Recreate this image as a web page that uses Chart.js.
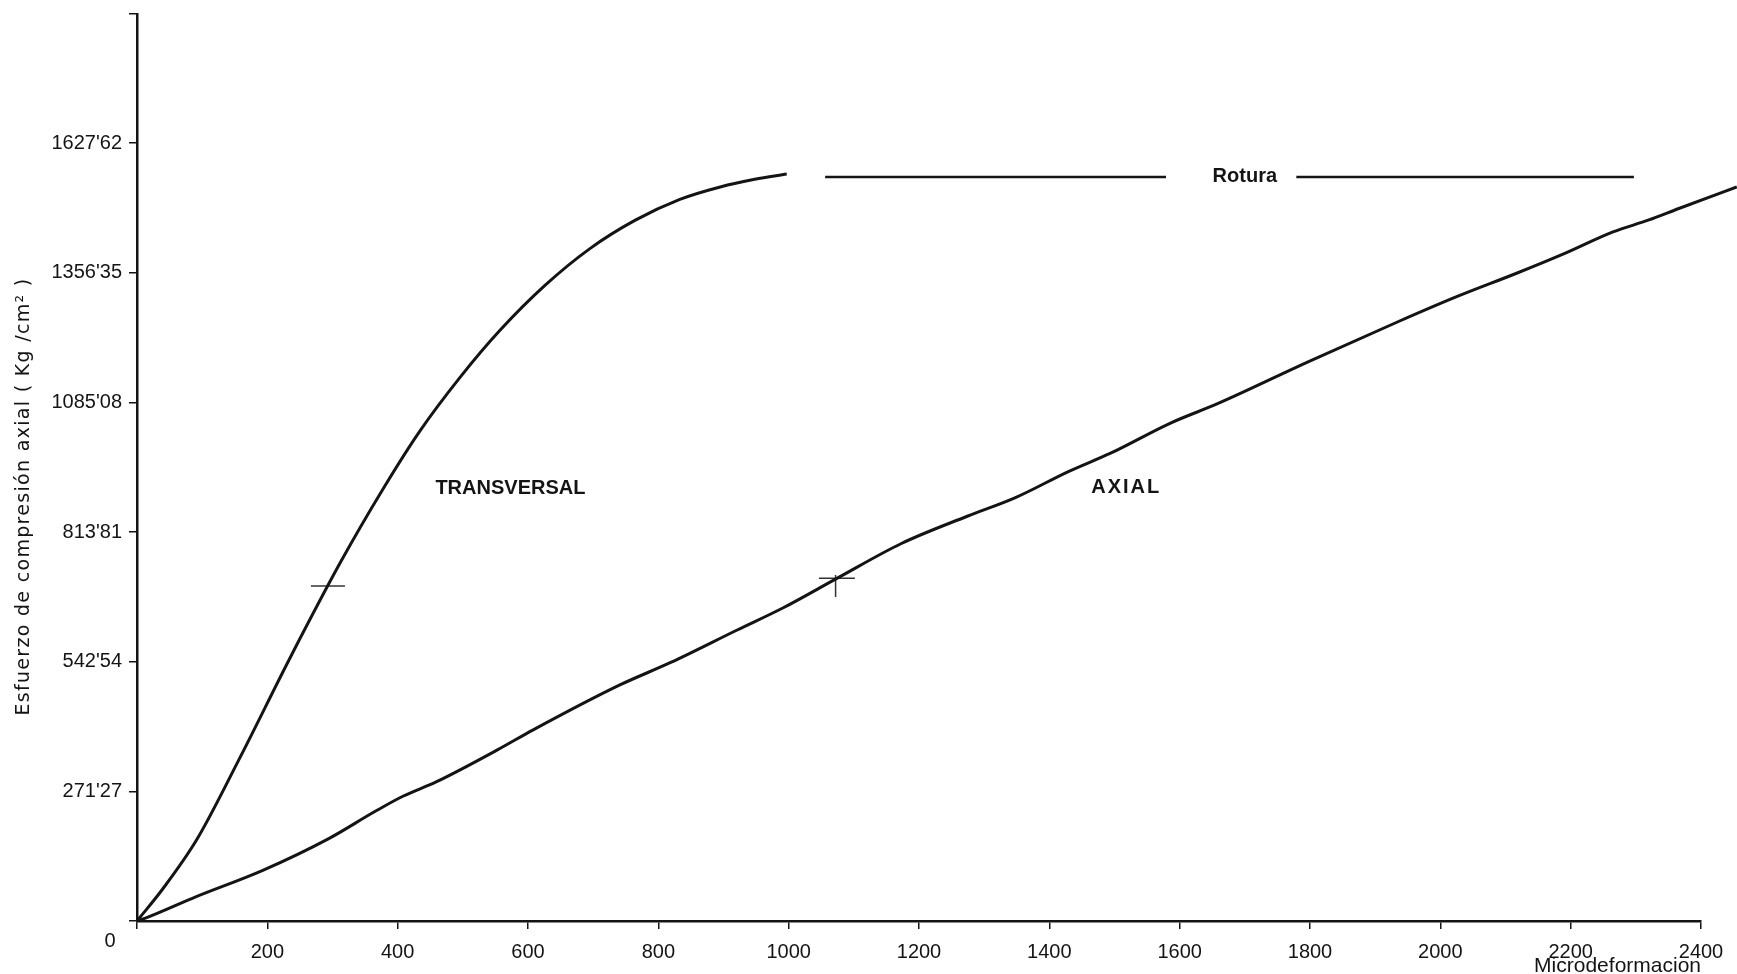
<!DOCTYPE html>
<html>
<head>
<meta charset="utf-8">
<script src="https://cdn.jsdelivr.net/npm/chart.js@4.4.1/dist/chart.umd.min.js"></script>
<style>
html,body{margin:0;padding:0;background:#fff;}
#wrap{width:1737px;height:974px;}
</style>
</head>
<body>
<div id="wrap"><canvas id="c" width="1737" height="974"></canvas></div>
<script>
// ---- data ----
const transversalX = [0, 40, 92, 158, 235, 312, 378, 434, 496, 557, 626, 695, 764, 833, 895, 948, 997];
const transversalY = [0, 68, 171, 342, 551, 750, 905, 1025, 1138, 1236, 1330, 1407, 1466, 1510, 1536, 1552, 1563];

const axialX = [0, 13, 91, 193, 295, 365, 408, 459, 553, 608, 741, 819, 921, 991, 1074, 1173, 1274, 1348, 1430, 1494, 1586, 1659, 1797, 1935, 2026, 2118, 2191, 2265, 2320, 2366, 2455];
const axialY = [0, 6, 51, 106, 173, 229, 261, 291, 358, 400, 494, 541, 609, 655, 717, 790, 847, 886, 941, 979, 1042, 1083, 1170, 1254, 1307, 1356, 1397, 1442, 1467, 1491, 1536];

const roturaStartX = [1056, 1779];
const roturaEndX = [1579, 2297];
const roturaY = 1557;

const markX = [293, 1074, 1072];
const markY = [701, 717, 701];

const xTickValues = [0, 200, 400, 600, 800, 1000, 1200, 1400, 1600, 1800, 2000, 2200, 2400];
const xTickLabels = ['', '200', '400', '600', '800', '1000', '1200', '1400', '1600', '1800', '2000', '2200', '2400'];
const xAxisMax = 2400;

const yTickValues = [0, 271.27, 542.54, 813.81, 1085.08, 1356.35, 1627.62];
const yTickLabels = ['', "271'27", "542'54", "813'81", "1085'08", "1356'35", "1627'62"];
const yAxisMax = 1898;

const originLabel = '0';
const xTitle = 'Microdeformacion';
const yTitle = 'Esfuerzo de compresión axial ( Kg /cm² )';

const curveLabelText = ['TRANSVERSAL', 'AXIAL', 'Rotura'];
const curveLabelX = [573, 1518, 1700];
const curveLabelY = [906, 908, 1557];

// ---- build datasets ----
const toPts = (xs, ys) => xs.map((x, i) => ({x: x, y: ys[i]}));
const roturaPts = [];
roturaStartX.forEach((s, i) => {
  if (i > 0) roturaPts.push({x: (roturaEndX[i - 1] + s) / 2, y: null});
  roturaPts.push({x: s, y: roturaY});
  roturaPts.push({x: roturaEndX[i], y: roturaY});
});

const INK = '#141414';

const textPlugin = {
  id: 'textPlugin',
  afterDraw(chart) {
    const {ctx, chartArea, scales} = chart;
    const xs = scales.x, ys = scales.y;
    ctx.save();
    ctx.fillStyle = INK;
    ctx.textAlign = 'center';
    ctx.textBaseline = 'middle';
    ctx.font = 'bold 20px "Liberation Sans"';
    curveLabelText.forEach((t, i) => {
      ctx.letterSpacing = (t === 'AXIAL' ? 2 : 0) + 'px';
      ctx.fillText(t, xs.getPixelForValue(curveLabelX[i]), ys.getPixelForValue(curveLabelY[i]));
    });
    ctx.letterSpacing = '0px';
    ctx.font = '20px "Liberation Sans"';
    ctx.fillText(originLabel, xs.getPixelForValue(0) - 27, ys.getPixelForValue(0) + 20);
    // rotated y-axis title
    ctx.font = '19px "DejaVu Sans"';
    const natural = ctx.measureText(yTitle).width;
    const spacing = Math.max(0, (438 - natural) / yTitle.length);
    ctx.letterSpacing = spacing.toFixed(2) + 'px';
    ctx.translate(chartArea.left - 113, (chartArea.top + chartArea.bottom) / 2 + 29);
    ctx.rotate(-Math.PI / 2);
    ctx.fillText(yTitle, 0, 0);
    ctx.restore();
  }
};

const chart = new Chart(document.getElementById('c'), {
  type: 'line',
  data: {
    datasets: [
      {
        label: 'TRANSVERSAL',
        data: toPts(transversalX, transversalY),
        borderColor: INK, borderWidth: 3, pointRadius: 0,
        cubicInterpolationMode: 'monotone', fill: false
      },
      {
        label: 'AXIAL',
        data: toPts(axialX, axialY),
        borderColor: INK, borderWidth: 3, pointRadius: 0,
        cubicInterpolationMode: 'monotone', fill: false, clip: false
      },
      {
        label: 'Rotura',
        data: roturaPts,
        borderColor: INK, borderWidth: 2.5, pointRadius: 0,
        spanGaps: false, fill: false
      },
      {
        label: 'marks',
        data: toPts(markX, markY),
        showLine: false,
        pointStyle: 'line',
        pointRadius: [17, 18, 11],
        pointRotation: [0, 0, 90],
        borderColor: '#333', pointBorderColor: '#333', pointBorderWidth: 1.5,
        pointHoverRadius: 0
      }
    ]
  },
  options: {
    responsive: false,
    animation: false,
    devicePixelRatio: 1,
    layout: {autoPadding: false, padding: {top: 14, right: 36, left: 0, bottom: 0}},
    plugins: {legend: {display: false}, tooltip: {enabled: false}},
    events: [],
    scales: {
      x: {
        type: 'linear',
        bounds: 'data',
        afterDataLimits(s) { s.min = 0; s.max = xAxisMax; },
        afterBuildTicks(s) { s.ticks = xTickValues.map(v => ({value: v})); },
        afterFit(s) { s.height = 53; s.paddingLeft = 0; s.paddingRight = 0; },
        ticks: {
          autoSkip: false, maxRotation: 0,
          callback: (v, i) => xTickLabels[i] !== undefined ? xTickLabels[i] : '',
          color: INK, padding: 11,
          font: {family: '"Liberation Sans"', size: 20}
        },
        grid: {drawOnChartArea: false, drawTicks: true, tickLength: 8, color: INK, lineWidth: 1.5},
        border: {display: true, color: INK, width: 2.5},
        title: {
          display: true, text: xTitle, align: 'end', color: INK,
          font: {family: '"Liberation Sans"', size: 21},
          padding: {top: 0, bottom: -5}
        }
      },
      y: {
        type: 'linear',
        bounds: 'data',
        min: 0, max: yAxisMax,
        afterBuildTicks(s) { s.ticks = yTickValues.concat([yAxisMax]).map(v => ({value: v})); },
        afterFit(s) { s.width = 137; s.paddingTop = 0; s.paddingBottom = 0; },
        ticks: {
          autoSkip: false,
          callback: (v, i) => yTickLabels[i] !== undefined ? yTickLabels[i] : '',
          color: INK, padding: 7,
          font: {family: '"Liberation Sans"', size: 20}
        },
        grid: {drawOnChartArea: false, drawTicks: true, tickLength: 8, color: INK, lineWidth: 1.5},
        border: {display: true, color: INK, width: 2.5}
      }
    }
  },
  plugins: [textPlugin]
});
</script>
</body>
</html>
